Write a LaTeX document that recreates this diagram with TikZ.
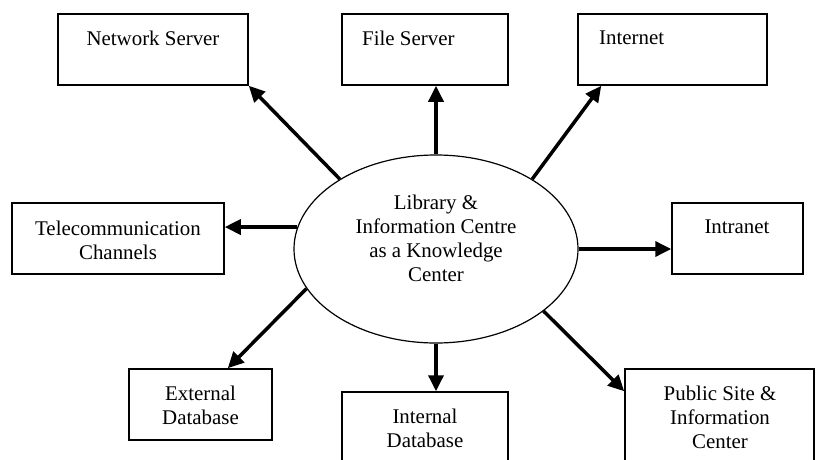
\documentclass[tikz,border=0pt]{standalone}
\usepackage{fontspec}
\setmainfont{Liberation Serif}
\usetikzlibrary{arrows.meta,shapes.geometric}
\begin{document}
\begin{tikzpicture}[x=1pt,y=-1pt,
  box/.style={draw,line width=1.5pt,rectangle,inner sep=0pt},
  lbl/.style={font=\fontsize{20.9}{24}\selectfont,align=center,inner sep=0pt},
  arr/.style={line width=3.5pt,-{Triangle[length=16pt,width=15pt]}}]
\useasboundingbox[fill=white] (0,0) rectangle (824,460);
% boxes
\node[box,minimum width=190pt,minimum height=71pt] (ns) at (153,49.5) {};
\node[box,minimum width=166pt,minimum height=71pt] (fs) at (425,49.5) {};
\node[box,minimum width=189pt,minimum height=71pt] (in) at (672.5,49.5) {};
\node[box,minimum width=212pt,minimum height=71pt] (tc) at (118,238.5) {};
\node[box,minimum width=131pt,minimum height=71pt] (it) at (737.5,238.5) {};
\node[box,minimum width=143pt,minimum height=71pt] (ed) at (200.5,404.5) {};
\node[box,minimum width=166pt,minimum height=71pt] (id) at (425,427.5) {};
\node[box,minimum width=189pt,minimum height=101pt] (ps) at (719.5,419.5) {};
% centre ellipse
\node[draw,ellipse,line width=1.2pt,minimum width=284pt,minimum height=188pt,inner sep=0pt] (e) at (436,249) {};
% labels
\node[lbl] (nsl) at (153,38) {Network Server};
\node[lbl,anchor=west] (fsl) at (362,38) {File Server};
\node[lbl,anchor=west] (inl) at (599,38) {Internet};
\node[lbl] (tcl) at (118,240) {Telecommunication\\Channels};
\node[lbl] (itl) at (737,227) {Intranet};
\node[lbl] (edl) at (200.5,405) {External\\Database};
\node[lbl] (idl) at (425,428) {Internal\\Database};
\node[lbl] (psl) at (720,417) {Public Site \&\\Information\\Center};
\node[lbl] (el) at (436,238) {Library \&\\Information Centre\\as a Knowledge\\Center};
% arrows
\draw[arr] (e.144) -- (ns.south east);
\draw[arr] (e.north) -- (e.north |- fs.south);
\draw[arr] (e.36) -- ([xshift=24pt]in.south west);
\draw[arr] (e.171) -- (e.171 -| tc.east);
\draw[arr] (e.east) -- (e.east -| it.west);
\draw[arr] (e.197) -- ([xshift=-45pt]ed.north east);
\draw[arr] (e.south) -- (e.south |- id.north);
\draw[arr] (e.-30) -- ([yshift=-23pt]ps.north west);
\end{tikzpicture}
\end{document}
